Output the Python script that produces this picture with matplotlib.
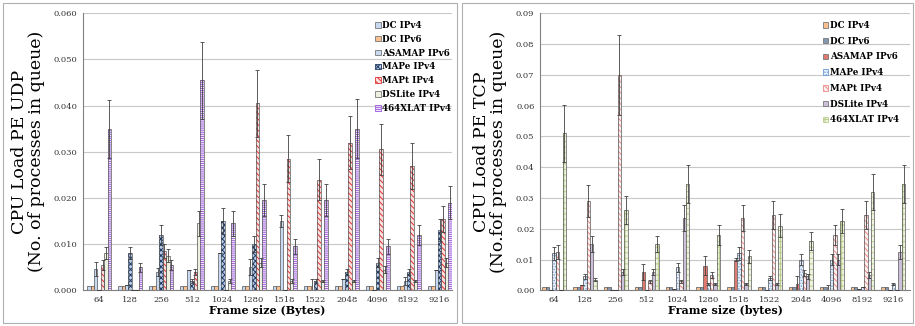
import numpy as np
import matplotlib
matplotlib.use('Agg')
from matplotlib import pyplot as plt
from matplotlib.patches import Rectangle, Patch

plt.rcParams['font.family'] = 'DejaVu Serif'
plt.rcParams['hatch.linewidth'] = 0.7

frame_sizes = ['64', '128', '256', '512', '1024', '1280', '1518', '1522', '2048', '4096', '8192', '9216']
series = ['DC IPv4', 'DC IPv6', 'ASAMAP IPv6', 'MAPe IPv4', 'MAPt IPv4', 'DSLite IPv4', '464XLAT IPv4']

# UDP panel (left)
udp_dc4 = [0.001] * 12
udp_dc6 = [0.001] * 12
udp_asamap = [0.0047, 0.0011, 0.004, 0.0045, 0.008, 0.005, 0.015, 0.0, 0.0025, 0.0, 0.002, 0.0045]
udp_mape = [0.0, 0.008, 0.012, 0.002, 0.015, 0.010, 0.0, 0.002, 0.004, 0.006, 0.004, 0.013]
udp_mapt = [0.0055, 0.0, 0.0085, 0.004, 0.0, 0.0405, 0.0285, 0.024, 0.032, 0.0305, 0.027, 0.0155]
udp_dslite = [0.008, 0.0, 0.0075, 0.0145, 0.002, 0.006, 0.002, 0.002, 0.002, 0.0045, 0.002, 0.006]
udp_464 = [0.035, 0.005, 0.0055, 0.0455, 0.0145, 0.0195, 0.0095, 0.0195, 0.035, 0.0095, 0.012, 0.019]

udp_asamap_err = [0.0015, 0.0, 0.0009, 0.0, 0.0, 0.0017, 0.0013, 0.0025, 0.0, 0.0, 0.0009, 0.0]
udp_mape_err = [0.0, 0.0013, 0.0021, 0.0004, 0.0028, 0.0018, 0.0, 0.0004, 0.0007, 0.001, 0.0007, 0.0024]
udp_mapt_err = [0.001, 0.0, 0.0015, 0.0007, 0.0, 0.0073, 0.0051, 0.0044, 0.0058, 0.0055, 0.005, 0.0028]
udp_dslite_err = [0.0013, 0.0, 0.0014, 0.0027, 0.0004, 0.001, 0.0004, 0.0003, 0.0003, 0.0008, 0.0003, 0.001]
udp_464_err = [0.0063, 0.001, 0.001, 0.0083, 0.0027, 0.0035, 0.0017, 0.0035, 0.0064, 0.0017, 0.0022, 0.0035]

# TCP panel (right)
tcp_dc4 = [0.001] * 12
tcp_dc6 = [0.001] * 12
tcp_asamap = [0.0, 0.0018, 0.0, 0.006, 0.0003, 0.008, 0.010, 0.0, 0.002, 0.0, 0.0004, 0.0]
tcp_mape = [0.012, 0.0045, 0.0, 0.0, 0.0075, 0.002, 0.012, 0.004, 0.010, 0.010, 0.001, 0.002]
tcp_mapt = [0.0125, 0.029, 0.070, 0.003, 0.003, 0.005, 0.0235, 0.0245, 0.0055, 0.018, 0.0245, 0.0]
tcp_dslite = [0.0, 0.015, 0.006, 0.006, 0.0235, 0.002, 0.002, 0.002, 0.0045, 0.010, 0.005, 0.0125]
tcp_464 = [0.051, 0.0035, 0.026, 0.015, 0.0345, 0.018, 0.011, 0.021, 0.016, 0.0225, 0.032, 0.0345]

tcp_asamap_err = [0.0, 0.0, 0.0, 0.0027, 0.0, 0.003, 0.0005, 0.0, 0.0027, 0.0017, 0.0, 0.0]
tcp_mape_err = [0.002, 0.0008, 0.0, 0.0, 0.0014, 0.0004, 0.002, 0.0007, 0.0018, 0.0018, 0.0, 0.0003]
tcp_mapt_err = [0.0023, 0.0052, 0.013, 0.0005, 0.0005, 0.0009, 0.0043, 0.0045, 0.001, 0.0033, 0.0045, 0.0]
tcp_dslite_err = [0.0, 0.0027, 0.001, 0.001, 0.0043, 0.0004, 0.0004, 0.0004, 0.0008, 0.0018, 0.001, 0.0023]
tcp_464_err = [0.0092, 0.0006, 0.0046, 0.0027, 0.0062, 0.0033, 0.002, 0.0038, 0.003, 0.004, 0.0058, 0.0062]

udp_vals = [udp_dc4, udp_dc6, udp_asamap, udp_mape, udp_mapt, udp_dslite, udp_464]
udp_errs = [None, None, udp_asamap_err, udp_mape_err, udp_mapt_err, udp_dslite_err, udp_464_err]
tcp_vals = [tcp_dc4, tcp_dc6, tcp_asamap, tcp_mape, tcp_mapt, tcp_dslite, tcp_464]
tcp_errs = [None, None, tcp_asamap_err, tcp_mape_err, tcp_mapt_err, tcp_dslite_err, tcp_464_err]

# (face, hatch, hatch colour)
udp_style = [('#c6d9f1', None, None), ('#fac090', None, None), ('#c6d9f1', None, None),
             ('#b8cce4', 'xxxxxx', '#1f3864'), ('#fbe0e0', '\\\\\\\\\\\\', '#e03030'),
             ('#ebf1de', None, None), ('#f3ebfa', '--------', '#a060e0')]
tcp_style = [('#fac090', None, None), ('#8497b0', None, None), ('#e07a70', None, None),
             ('#eaf1fa', '......', '#6f9bd6'), ('#fdf0f0', '\\\\\\\\\\\\', '#ee8a8a'),
             ('#ccc0da', None, None), ('#eef3e2', '+++', '#b8cc8a')]


def draw_panel(ax, vals, errs, styles, ylim, yticks, yfmt, ylabel, xlabel, xlim, legend_pos, legend_gap):
    x = np.arange(len(frame_sizes))
    w = 0.11
    handles = []
    for i, (v, e, st) in enumerate(zip(vals, errs, styles)):
        pos = x + (i - 3) * w
        face, hatch, hcol = st
        if hatch:
            ax.bar(pos, v, w, color=face, hatch=hatch, edgecolor=hcol, linewidth=0, zorder=2)
            ax.bar(pos, v, w, fill=False, edgecolor='#555555', linewidth=0.5, zorder=3)
            handles.append(Patch(facecolor=face, hatch=hatch, edgecolor=hcol, linewidth=0.6,
                                 label=series[i]))
        else:
            ax.bar(pos, v, w, color=face, edgecolor='#555555', linewidth=0.5, zorder=2)
            handles.append(Patch(facecolor=face, edgecolor='#777777', linewidth=0.6, label=series[i]))
        if e is not None:
            ax.errorbar(pos, v, yerr=e, fmt='none', ecolor='#404040', elinewidth=0.6, capsize=1.3,
                        capthick=0.6, zorder=4)
    ax.set_xlim(*xlim)
    ax.set_ylim(*ylim)
    ax.set_yticks(yticks)
    ax.set_yticklabels([yfmt % t for t in yticks], fontsize=6, color='#333333')
    ax.set_xticks(x)
    ax.set_xticklabels(frame_sizes, fontsize=6, color='#333333')
    ax.tick_params(length=0, pad=4)
    ax.yaxis.grid(color='#c8c8c8', linewidth=0.8, zorder=0)
    ax.set_axisbelow(True)
    for s in ('top', 'right'):
        ax.spines[s].set_visible(False)
    for s in ('left', 'bottom'):
        ax.spines[s].set_color('#808080')
        ax.spines[s].set_linewidth(0.8)
    ax.set_ylabel(ylabel, fontsize=12.5, labelpad=6, linespacing=1.0)
    ax.set_xlabel(xlabel, fontsize=8, fontweight='bold', labelpad=1)
    leg = ax.legend(handles=handles, loc='upper left', bbox_to_anchor=legend_pos, frameon=False,
                    prop={'weight': 'bold', 'size': 6.3}, handlelength=0.6, handleheight=0.6,
                    handletextpad=0.2, labelspacing=legend_gap, borderaxespad=0)
    leg.set_zorder(5)


fig = plt.figure(figsize=(9.15, 3.26), dpi=100)

fig.patches.append(Rectangle((3 / 915, 3 / 326), 454 / 915, 320 / 326, transform=fig.transFigure,
                             fill=False, edgecolor='#b0b0b0', linewidth=0.8))
fig.patches.append(Rectangle((462 / 915, 3 / 326), 451 / 915, 320 / 326, transform=fig.transFigure,
                             fill=False, edgecolor='#b0b0b0', linewidth=0.8))

ax1 = fig.add_axes([83 / 915, 0.1095, 369 / 915, 0.8497])
draw_panel(ax1, udp_vals, udp_errs, udp_style, (0, 0.060), np.arange(0, 0.0601, 0.010), '%.3f',
           'CPU Load PE UDP\n(No. of processes in queue)', 'Frame size (Bytes)', (-0.52, 11.4),
           (0.783, 0.985), 0.55)

ax2 = fig.add_axes([540 / 915, 0.1095, 370 / 915, 0.8497])
draw_panel(ax2, tcp_vals, tcp_errs, tcp_style, (0, 0.09), np.arange(0, 0.0901, 0.01), '%.2f',
           'CPU Load PE TCP\n(No.fof processes in queue)', 'Frame size (bytes)', (-0.46, 11.54),
           (0.755, 0.985), 0.77)

fig.savefig('out.png', dpi=100)
